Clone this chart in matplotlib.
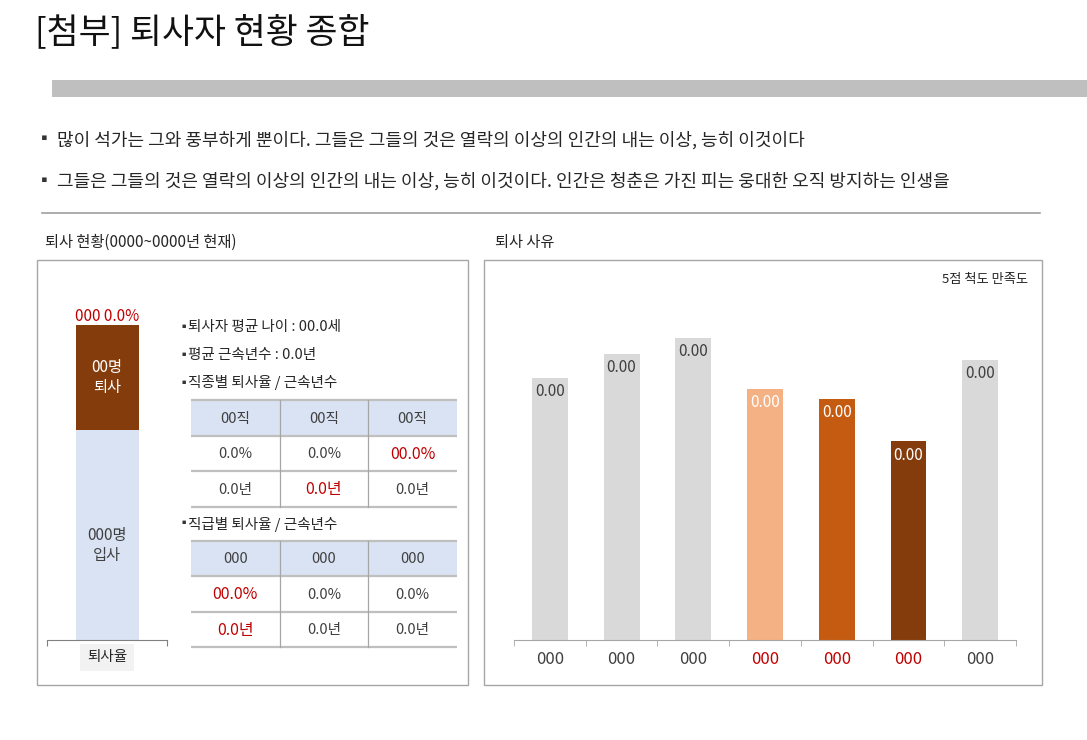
import numpy as np
import matplotlib.pyplot as plt
from matplotlib.patches import Rectangle
from matplotlib.lines import Line2D
from matplotlib.transforms import Affine2D

plt.rcParams['font.family'] = ['Noto Sans CJK KR', 'DejaVu Sans']

# ---- data ----
title = "[첨부] 퇴사자 현황 종합"
bullets = ["많이 석가는 그와 풍부하게 뿐이다. 그들은 그들의 것은 열락의 이상의 인간의 내는 이상, 능히 이것이다",
           "그들은 그들의 것은 열락의 이상의 인간의 내는 이상, 능히 이것이다. 인간은 청춘은 가진 피는 웅대한 오직 방지하는 인생을"]

hires = 200        # 입사 (stack bottom)
quits = 100        # 퇴사 (stack top)
stack_top_label = "000 0.0%"
quit_label = "00명\n퇴사"
hire_label = "000명\n입사"

info_lines = ["퇴사자 평균 나이 : 00.0세", "평균 근속년수 : 0.0년", "직종별 퇴사율 / 근속년수"]
job_header = ["00직", "00직", "00직"]
job_rate = ["0.0%", "0.0%", "00.0%"]
job_years = ["0.0년", "0.0년", "0.0년"]
job_red = [(1, 2), (2, 1)]
rank_title = "직급별 퇴사율 / 근속년수"
rank_header = ["000", "000", "000"]
rank_rate = ["00.0%", "0.0%", "0.0%"]
rank_years = ["0.0년", "0.0년", "0.0년"]
rank_red = [(1, 0), (2, 0)]

reasons = ["000", "000", "000", "000", "000", "000", "000"]
scores = [3.60, 3.93, 4.15, 3.45, 3.31, 2.73, 3.85]
score_labels = ["0.00"] * 7
bar_colors = ["#d9d9d9", "#d9d9d9", "#d9d9d9", "#f4b183", "#c55a11", "#843c0c", "#d9d9d9"]
label_colors = ["#404040", "#404040", "#404040", "white", "white", "white", "#404040"]
tick_colors = ["#404040", "#404040", "#404040", "#c00000", "#c00000", "#c00000", "#404040"]

W, H = 1087, 740
RED = "#c00000"
fig = plt.figure(figsize=(W / 100, H / 100), dpi=100)
# pixel transform (origin top-left)
pxt = Affine2D().scale(1 / W, -1 / H).translate(0, 1) + fig.transFigure


def ax_at(x0, y0, x1, y1):
    return fig.add_axes([x0 / W, 1 - y1 / H, (x1 - x0) / W, (y1 - y0) / H])


def txt(x, y, s, **kw):
    kw.setdefault('va', 'center')
    return fig.text(x, y, s, transform=pxt, **kw)


# header
txt(35, 33, title, fontsize=25, color="#111111")
fig.add_artist(Rectangle((52, 80), 1040, 17, transform=pxt, color="#bfbfbf", lw=0))
for i, b in enumerate(bullets):
    y = 140 + i * 41
    txt(36, y, "▪", fontsize=12, color="#333333")
    txt(57, y, b, fontsize=13, color="#262626")
fig.add_artist(Line2D([42, 1040], [213, 213], transform=pxt, color="#a0a0a0", lw=1.2))

# panel frames and titles
txt(45, 242, "퇴사 현황(0000~0000년 현재)", fontsize=11, color="#262626")
txt(495, 242, "퇴사 사유", fontsize=11, color="#262626")
for (x0, y0, x1, y1) in [(37, 260, 468, 685), (484, 260, 1042, 685)]:
    fig.add_artist(Rectangle((x0, y0), x1 - x0, y1 - y0, transform=pxt, fill=False,
                             ec="#a6a6a6", lw=1.0))

# ---- left stacked bar ----
axl = ax_at(47, 290, 167, 640)
axl.bar(0, hires, width=1.05, color="#dae3f3")
axl.bar(0, quits, bottom=hires, width=1.05, color="#843c0c")
axl.set_xlim(-1, 1)
axl.set_ylim(0, (hires + quits) * 350 / 315)
for s in ["top", "right", "left"]:
    axl.spines[s].set_visible(False)
axl.spines["bottom"].set_color("#808080")
axl.set_yticks([])
axl.set_xticks([-1, 1])
axl.set_xticklabels([])
axl.tick_params(axis="x", length=4, color="#808080")
axl.patch.set_alpha(0)
axl.text(0, hires + quits, stack_top_label, ha="center", va="bottom", fontsize=11, color=RED)
axl.text(0, hires + quits / 2, quit_label, ha="center", va="center", fontsize=11,
         color="white", linespacing=1.3)
axl.text(0, hires * 0.45, hire_label, ha="center", va="center", fontsize=11,
         color="#404040", linespacing=1.3)
axl.text(0, -0.05, "퇴사율", transform=axl.get_xaxis_transform(), ha="center", va="center",
         fontsize=10.5, color="#262626",
         bbox=dict(boxstyle="square,pad=0.45", fc="#f2f2f2", ec="none"))

# ---- info bullets and tables ----
for i, s in enumerate(info_lines):
    y = 327 + i * 28
    txt(177, y, "▪", fontsize=9, color="#333333")
    txt(188, y, s, fontsize=10.5, color="#262626")
txt(177, 524, "▪", fontsize=9, color="#333333")
txt(188, 524, rank_title, fontsize=10.5, color="#262626")


def draw_table(y0, y1, header, rate, years, reds):
    ax = ax_at(191, y0, 457, y1)
    ax.set_xlim(0, 3)
    ax.set_ylim(3, 0)
    ax.axis("off")
    ax.add_patch(Rectangle((0, 0), 3, 1, color="#dae3f3", lw=0))
    for r in range(4):
        ax.plot([0, 3], [r, r], color="#bfbfbf", lw=1.6, solid_capstyle="butt", clip_on=False)
    for c in (1, 2):
        ax.plot([c, c], [0, 3], color="#a6a6a6", lw=0.9, clip_on=False)
    for r, row in enumerate([header, rate, years]):
        for c, s in enumerate(row):
            red = (r, c) in reds
            ax.text(c + 0.5, r + 0.52, s, ha="center", va="center",
                    fontsize=11.5 if red else 10.5, color=RED if red else "#404040")


draw_table(400, 507, job_header, job_rate, job_years, job_red)
draw_table(541, 647, rank_header, rank_rate, rank_years, rank_red)

# ---- right bar chart ----
axr = ax_at(514, 276, 1016, 640)
x = np.arange(len(reasons))
bars = axr.bar(x, scores, width=0.5, color=bar_colors)
for i, (v, s) in enumerate(zip(scores, score_labels)):
    axr.annotate(s, (i, v), xytext=(0, -10), textcoords="offset points", ha="center",
                 va="center", fontsize=11, color=label_colors[i])
axr.set_xlim(-0.5, len(reasons) - 0.5)
axr.set_ylim(0, 5)
for s in ["top", "right", "left"]:
    axr.spines[s].set_visible(False)
axr.spines["bottom"].set_color("#a6a6a6")
axr.set_yticks([])
axr.set_xticks(x)
axr.set_xticklabels(reasons, fontsize=12)
for lab, c in zip(axr.get_xticklabels(), tick_colors):
    lab.set_color(c)
axr.tick_params(axis="x", which="major", length=0, pad=8)
axr.set_xticks(np.arange(-0.5, len(reasons)), minor=True)
axr.tick_params(axis="x", which="minor", length=4, color="#a6a6a6")
axr.patch.set_alpha(0)
txt(1028, 280, "5점 척도 만족도", fontsize=9.5, color="#262626", ha="right")

fig.savefig("out.png", dpi=100)
